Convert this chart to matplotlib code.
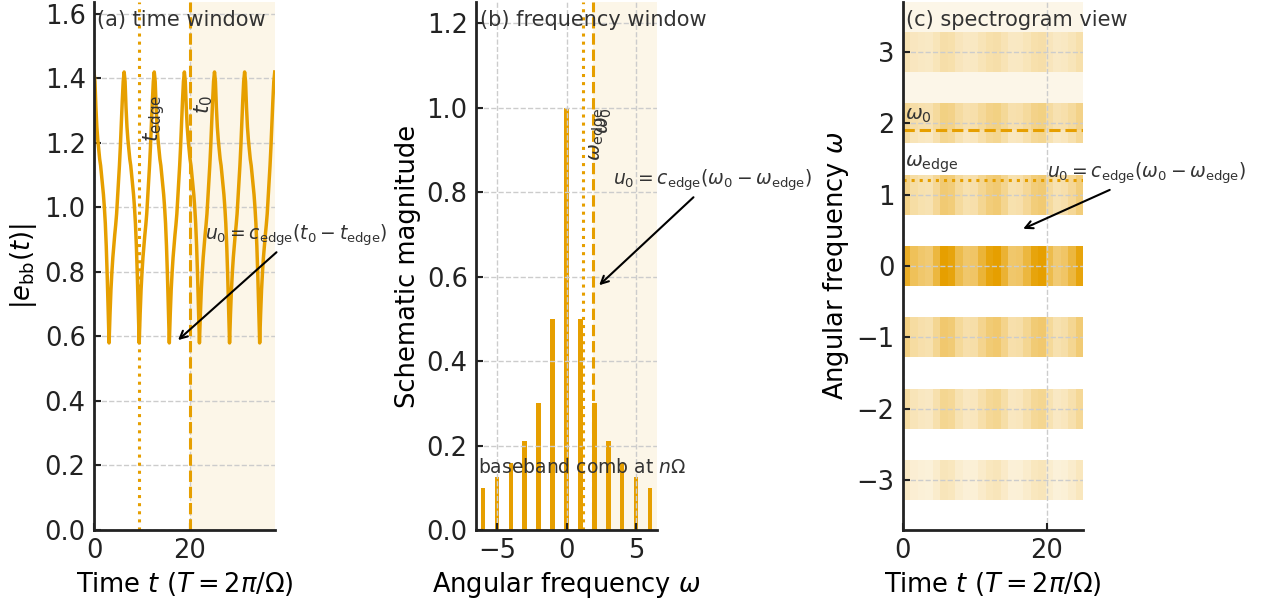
import numpy as np
import matplotlib
matplotlib.use("Agg")
import matplotlib.pyplot as plt
from matplotlib.colors import LinearSegmentedColormap
from matplotlib.ticker import MultipleLocator

ORANGE = "#E69F00"
TXT = "#333333"

# (a) |e_bb(t)| over one period, read every pi/16 starting at a peak
env_period = [1.42, 1.39, 1.31, 1.25, 1.21, 1.18, 1.15, 1.13,
              1.10, 1.07, 1.04, 1.00, 0.95, 0.88, 0.79, 0.68,
              0.58, 0.67, 0.745, 0.80, 0.845, 0.88, 0.915, 0.945,
              0.98, 1.03, 1.08, 1.13, 1.19, 1.26, 1.33, 1.39]
n_periods = 6
t_edge = 9.42
t0 = 20.0

# (b) schematic comb magnitudes at n*Omega
harm_n = np.arange(-6, 7)
harm_mag = [0.10, 0.126, 0.158, 0.21, 0.30, 0.50, 1.00,
            0.50, 0.30, 0.21, 0.158, 0.126, 0.10]
w_edge = 1.2
w0 = 1.9

# (c) spectrogram bands: level per harmonic and time pattern across the window
band_n = [-3, -2, -1, 0, 1, 2, 3]
band_level = [0.27, 0.43, 0.57, 1.00, 0.55, 0.43, 0.27]
spec_pattern = [0.85, 0.65, 0.58, 0.55, 0.75, 1.00, 0.95, 0.70,
                0.58, 0.60, 0.78, 0.95, 1.00, 0.80, 0.58, 0.60,
                0.75, 0.95, 1.00, 0.70, 0.55, 0.60, 0.75, 0.95]

plt.rcParams.update({
    "font.size": 18.5,
    "axes.edgecolor": "#222222",
    "axes.linewidth": 2.0,
    "xtick.direction": "in",
    "ytick.direction": "in",
    "xtick.major.size": 5,
    "ytick.major.size": 5,
    "xtick.major.width": 1.5,
    "ytick.major.width": 1.5,
    "xtick.major.pad": 6,
    "ytick.major.pad": 6,
    "xtick.color": "#222222",
    "ytick.color": "#222222",
})

fig = plt.figure(figsize=(12.62, 5.98), dpi=100)
ax1 = fig.add_axes([0.0745, 0.1137, 0.1432, 0.883])
ax2 = fig.add_axes([0.3772, 0.1137, 0.1434, 0.883])
ax3 = fig.add_axes([0.7153, 0.1137, 0.1432, 0.883])

for ax in (ax1, ax2, ax3):
    ax.spines["top"].set_visible(False)
    ax.spines["right"].set_visible(False)
    ax.grid(True, color="#cccccc", linestyle="--", linewidth=1.0)

ann = r"$u_0 = c_{\rm edge}(\omega_0 - \omega_{\rm edge})$"
arrow = dict(arrowstyle="->", color="black", lw=1.5)

# ---- (a) time window
env = np.tile(env_period, n_periods)
env = np.append(env, env_period[0])
t = np.linspace(0, n_periods * 2 * np.pi, len(env))
ax1.axvspan(t0, t[-1], color=ORANGE, alpha=0.09, lw=0)
ax1.plot(t, env, color=ORANGE, lw=2.5)
ax1.axvline(t_edge, color=ORANGE, ls=":", lw=2.2)
ax1.axvline(t0, color=ORANGE, ls="--", lw=2.2)
ax1.set_xlim(0, t[-1])
ax1.set_ylim(0, 1.637)
ax1.xaxis.set_major_locator(MultipleLocator(20))
ax1.text(t_edge + 0.5, 1.35, r"$t_{\rm edge}$", rotation=90, ha="left", va="top",
         fontsize=15.5, color=TXT)
ax1.text(t0 + 0.5, 1.35, r"$t_0$", rotation=90, ha="left", va="top",
         fontsize=15.5, color=TXT)
ax1.annotate(r"$u_0 = c_{\rm edge}(t_0 - t_{\rm edge})$", xy=(17.1, 0.583),
             xytext=(23.1, 0.915), va="center", fontsize=13.5, color=TXT,
             arrowprops=arrow, annotation_clip=False)
ax1.text(0.015, 0.985, "(a) time window", transform=ax1.transAxes,
         ha="left", va="top", fontsize=15, color=TXT)
ax1.set_xlabel(r"Time $t$ ($T=2\pi/\Omega$)")
ax1.set_ylabel(r"$|e_{\rm bb}(t)|$")

# ---- (b) frequency window
ax2.axvspan(w0, 6.5, color=ORANGE, alpha=0.09, lw=0)
ax2.bar(harm_n, harm_mag, width=0.33, color=ORANGE)
ax2.axvline(w_edge, color=ORANGE, ls=":", lw=2.2)
ax2.axvline(w0, color=ORANGE, ls="--", lw=2.2)
ax2.set_xlim(-6.5, 6.5)
ax2.set_ylim(0, 1.25)
ax2.xaxis.set_major_locator(MultipleLocator(5))
ax2.text(w_edge + 0.3, 1.0, r"$\omega_{\rm edge}$", rotation=90, ha="left", va="top",
         fontsize=14.5, color=TXT)
ax2.text(w0 + 0.15, 1.0, r"$\omega_0$", rotation=90, ha="left", va="top",
         fontsize=14.5, color=TXT)
ax2.text(-6.35, 0.135, r"baseband comb at $n\Omega$", ha="left", va="baseline",
         fontsize=13.5, color=TXT)
ax2.annotate(ann, xy=(2.2, 0.575), xytext=(3.31, 0.829), va="center",
             fontsize=13.5, color=TXT, arrowprops=arrow, annotation_clip=False)
ax2.text(0.02, 0.985, "(b) frequency window", transform=ax2.transAxes,
         ha="left", va="top", fontsize=15, color=TXT)
ax2.set_xlabel(r"Angular frequency $\omega$")
ax2.set_ylabel("Schematic magnitude")

# ---- (c) spectrogram view
cmap = LinearSegmentedColormap.from_list("wo", ["white", ORANGE])
t_span = 8 * np.pi
t_cols = np.linspace(0, t_span, len(spec_pattern) + 1)
ax3.axhspan(w0, 3.7, color=ORANGE, alpha=0.09, lw=0)
for n, lev in zip(band_n, band_level):
    row = np.array(spec_pattern)[None, :] * lev
    ax3.pcolormesh(t_cols, [n - 0.28, n + 0.28], row, cmap=cmap,
                   vmin=0, vmax=1, shading="flat", zorder=0.6)
ax3.axhline(w0, color=ORANGE, ls="--", lw=2.2)
ax3.axhline(w_edge, color=ORANGE, ls=":", lw=2.2)
ax3.set_xlim(0, t_span)
ax3.set_ylim(-3.7, 3.7)
ax3.xaxis.set_major_locator(MultipleLocator(20))
ax3.yaxis.set_major_locator(MultipleLocator(1))
ax3.text(0.3, w0 + 0.08, r"$\omega_0$", ha="left", va="bottom", fontsize=14.5, color=TXT)
ax3.text(0.3, w_edge + 0.08, r"$\omega_{\rm edge}$", ha="left", va="bottom",
         fontsize=14.5, color=TXT)
ax3.annotate(ann, xy=(16.4, 0.505), xytext=(20.1, 1.30), va="center",
             fontsize=13.5, color=TXT, arrowprops=arrow, annotation_clip=False)
ax3.text(0.02, 0.985, "(c) spectrogram view", transform=ax3.transAxes,
         ha="left", va="top", fontsize=15, color=TXT)
ax3.set_xlabel(r"Time $t$ ($T=2\pi/\Omega$)")
ax3.set_ylabel(r"Angular frequency $\omega$")

fig.savefig("out.png", dpi=100)
